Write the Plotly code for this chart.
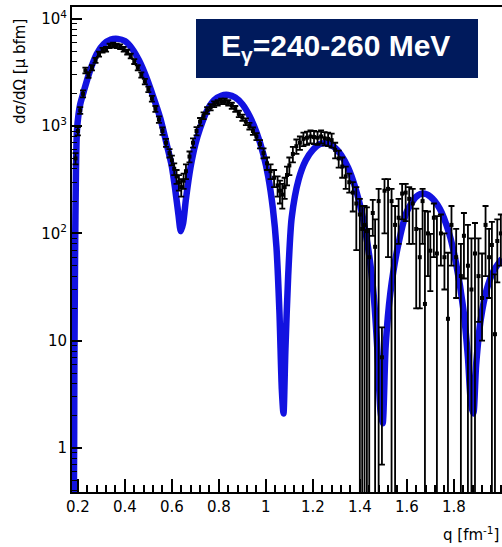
import plotly.graph_objects as go

# ---- model curve ----
curve_q = [0.180, 0.183, 0.185, 0.188, 0.192, 0.196, 0.203, 0.210, 0.225, 0.25, 0.28, 0.31, 0.34, 0.37,
           0.40, 0.43, 0.46, 0.49, 0.52, 0.55, 0.58, 0.60, 0.615, 0.628, 0.638, 0.648, 0.66, 0.68,
           0.70, 0.72, 0.75, 0.78, 0.81, 0.84, 0.87, 0.90, 0.93, 0.96, 0.99, 1.01, 1.03, 1.045,
           1.058, 1.068, 1.075, 1.083, 1.095, 1.11, 1.14, 1.17, 1.20, 1.23, 1.26, 1.29, 1.32, 1.35,
           1.38, 1.41, 1.44, 1.46, 1.475, 1.488, 1.497, 1.51, 1.53, 1.56, 1.60, 1.64, 1.67, 1.70,
           1.74, 1.78, 1.81, 1.84, 1.86, 1.873, 1.883, 1.895, 1.915, 1.94, 1.97, 2.005]
curve_v = [0.2, 0.35, 5, 60, 400, 900, 1300, 1600, 2100, 3200, 4700, 5800, 6400, 6500,
           6200, 5300, 4100, 2900, 1900, 1200, 650, 420, 250, 150, 105, 125, 210, 420,
           680, 950, 1400, 1750, 1920, 1950, 1850, 1600, 1250, 880, 540, 340, 170, 75,
           18, 3.5, 2.1, 8, 40, 140, 320, 480, 600, 680, 690, 640, 540, 410,
           270, 150, 62, 25, 8, 2.2, 1.7, 9, 28, 72, 160, 220, 235, 220,
           170, 100, 52, 20, 7, 2.6, 2.1, 6, 16, 30, 45, 58]

# ---- data points ----
data_q = [0.190, 0.200, 0.210, 0.222, 0.232, 0.245, 0.260, 0.275, 0.290, 0.305, 0.320, 0.335,
          0.350, 0.365, 0.380, 0.395, 0.410, 0.425, 0.440, 0.455, 0.470, 0.485, 0.500, 0.515,
          0.530, 0.545, 0.560, 0.575, 0.590, 0.600, 0.610, 0.620, 0.630, 0.640, 0.650, 0.660,
          0.675, 0.690, 0.705, 0.720, 0.735, 0.750, 0.765, 0.780, 0.795, 0.810, 0.825, 0.840,
          0.855, 0.870, 0.885, 0.900, 0.915, 0.930, 0.945, 0.960, 0.975, 0.990, 1.005, 1.020,
          1.035, 1.050, 1.060, 1.070, 1.080, 1.090, 1.100, 1.115, 1.130, 1.145, 1.160, 1.175,
          1.190, 1.205, 1.220, 1.235, 1.250, 1.265, 1.280, 1.295, 1.310, 1.325, 1.340,
          1.355, 1.370, 1.385, 1.400, 1.410, 1.420, 1.430, 1.440, 1.455, 1.465, 1.480, 1.494,
          1.505, 1.520, 1.535, 1.550, 1.565, 1.580, 1.595, 1.610, 1.625, 1.640, 1.655, 1.667,
          1.677, 1.690, 1.700, 1.715, 1.728, 1.745, 1.760, 1.775, 1.790, 1.810, 1.830, 1.843,
          1.860, 1.875, 1.890, 1.905, 1.920, 1.935, 1.950, 1.962, 1.975, 1.985, 2.000]
data_v = [500, 900, 1400, 2000, 3300, 3000, 3500, 4100, 4700, 5100, 5200, 5600,
          5700, 5600, 5500, 5200, 4900, 4500, 4000, 3500, 3000, 2600, 2200, 1800,
          1450, 1150, 900, 700, 560, 480, 400, 340, 300, 270, 310, 380,
          520, 700, 900, 1100, 1250, 1400, 1500, 1600, 1650, 1700, 1700, 1650,
          1550, 1450, 1300, 1200, 1100, 1000, 900, 800, 680, 560, 450, 380,
          330, 280, 250, 230, 270, 350, 430, 550, 650, 700, 760, 780,
          800, 790, 780, 800, 770, 760, 740, 600, 500, 420, 340,
          300, 240, 190, 150, 110, 120, 105, 60, 155, 75, 200, 7,
          250, 260, 200, 120, 140, 235, 240, 210, 190, 110, 60, 200,
          22, 100, 69, 140, 65, 100, 60, 16, 120, 60, 40, 95,
          50, 30, 65, 40, 25, 120, 60, 78, 11.5, 85, 100]
data_eup = [60, 80, 100, 150, 200, 180, 200, 220, 250, 250, 260, 280,
            280, 280, 270, 260, 250, 230, 210, 190, 170, 150, 130, 110,
            90, 80, 70, 60, 50, 50, 50, 50, 50, 50, 50, 60,
            60, 70, 80, 90, 90, 100, 100, 100, 100, 100, 100, 100,
            100, 90, 90, 80, 80, 70, 70, 60, 60, 60, 60, 60,
            60, 60, 60, 60, 60, 70, 80, 90, 100, 100, 110, 110,
            110, 110, 110, 110, 110, 110, 110, 100, 90, 90, 80,
            60, 60, 80, 60, 70, 60, 70, 50, 50, 60, 60, 6.3,
            70, 60, 60, 60, 70, 55, 50, 60, 70, 60, 50, 60,
            140, 60, 30, 50, 80, 50, 40, 50, 60, 50, 40, 60,
            70, 60, 60, 50, 40, 60, 50, 50, 30, 50, 50]
data_edn = [60, 80, 100, 150, 200, 180, 200, 220, 250, 250, 260, 280,
            280, 280, 270, 260, 250, 230, 210, 190, 170, 150, 130, 110,
            90, 80, 70, 60, 50, 50, 50, 50, 50, 50, 50, 60,
            60, 70, 80, 90, 90, 100, 100, 100, 100, 100, 100, 100,
            100, 90, 90, 80, 80, 70, 70, 60, 60, 60, 60, 60,
            60, 60, 60, 60, 60, 70, 80, 90, 100, 100, 110, 110,
            110, 110, 110, 110, 110, 110, 110, 100, 90, 90, 80,
            60, 80, 120, 150, 110, 120, 105, 60, 60, 75, 200, 6.3,
            150, 200, 200, 120, 60, 100, 110, 130, 110, 90, 40, 120,
            22, 60, 40, 80, 65, 50, 30, 16, 70, 35, 40, 57,
            50, 30, 65, 25, 15, 80, 35, 78, 11.5, 50, 50]

# ---- axis labels ----
x_tickvals = [0.2, 0.4, 0.6, 0.8, 1.0, 1.2, 1.4, 1.6, 1.8]
x_ticktext = ["0.2", "0.4", "0.6", "0.8", "1", "1.2", "1.4", "1.6", "1.8"]
y_tickvals = [1, 10, 100, 1000, 10000]
y_ticktext = ["1", "10", "10<sup>2</sup>", "10<sup>3</sup>", "10<sup>4</sup>"]
label_text = "E<sub>γ</sub>=240-260 MeV"
x_title = "q [fm<sup>-1</sup>]"
y_title = "dσ/dΩ [μ bfm]"

W, H = 502, 547
L, R, T, B = 72, 0, 7, 55
pw, ph = W - L - R, H - T - B

def px(xp):
    return (xp - L) / pw

def py(yp):
    return (H - B - yp) / ph

minor_y = [m * 10 ** d for d in range(-1, 4) for m in range(2, 10)]
minor_x = [round(0.16 + 0.04 * i, 3) for i in range(0, 47)]

fig = go.Figure()
fig.add_trace(go.Scatter(
    x=curve_q, y=curve_v, mode="lines",
    line=dict(color="#1212e0", width=6.5, shape="spline", smoothing=0.7),
    hoverinfo="skip", showlegend=False))
fig.add_trace(go.Scatter(
    x=data_q, y=data_v, mode="markers",
    marker=dict(symbol="square", size=4, color="black"),
    error_y=dict(type="data", symmetric=False, array=data_eup, arrayminus=data_edn,
                 color="black", thickness=1.8, width=3),
    showlegend=False))

tickfont = dict(family="DejaVu Sans", size=15, color="black")
fig.update_layout(
    width=W, height=H,
    margin=dict(l=L, r=R, t=T, b=B),
    paper_bgcolor="white", plot_bgcolor="white",
    xaxis=dict(range=[0.175, 2.005], showgrid=False, zeroline=False,
               showline=True, linecolor="black", linewidth=2, mirror=True,
               tickmode="array", tickvals=x_tickvals, ticktext=x_ticktext,
               ticks="inside", ticklen=13, tickwidth=1.5, tickcolor="black",
               tickfont=tickfont,
               minor=dict(tickmode="array", tickvals=minor_x, ticks="inside",
                          ticklen=7, tickwidth=1.5, tickcolor="black", showgrid=False)),
    yaxis=dict(type="log", range=[-0.41, 4.11], showgrid=False, zeroline=False,
               showline=True, linecolor="black", linewidth=2,
               tickmode="array", tickvals=y_tickvals, ticktext=y_ticktext,
               ticks="inside", ticklen=10, tickwidth=1.5, tickcolor="black",
               tickfont=tickfont,
               minor=dict(tickmode="array", tickvals=minor_y, ticks="inside",
                          ticklen=5, tickwidth=1.2, tickcolor="black", showgrid=False)),
    shapes=[dict(type="rect", xref="paper", yref="paper",
                 x0=px(196), x1=px(478), y0=py(78), y1=py(19),
                 fillcolor="#001a5c", line=dict(width=0), layer="above")],
    annotations=[
        dict(text=label_text, xref="paper", yref="paper", x=px(335), y=py(47),
             xanchor="center", yanchor="middle", showarrow=False,
             font=dict(family="Liberation Sans", size=30, color="white", weight="bold")),
        dict(text=y_title, xref="paper", yref="paper", x=px(20), y=py(72),
             xanchor="center", yanchor="middle", textangle=-90, showarrow=False,
             font=dict(family="DejaVu Sans", size=15, color="black")),
        dict(text=x_title, xref="paper", yref="paper", x=px(501), y=py(534),
             xanchor="right", yanchor="middle", showarrow=False,
             font=dict(family="DejaVu Sans", size=15, color="black")),
    ],
)

fig.write_html("out.html")
